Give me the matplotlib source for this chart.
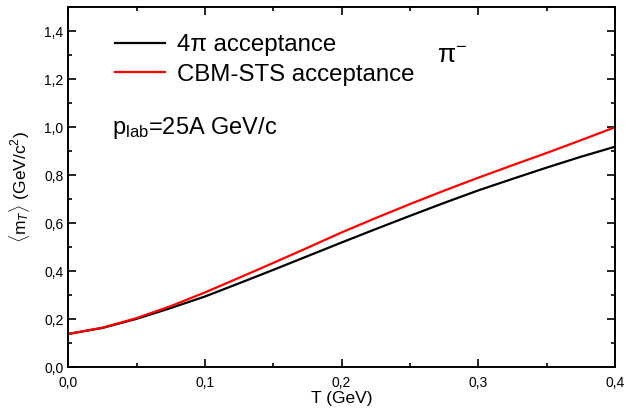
import matplotlib
matplotlib.use("Agg")
import matplotlib.pyplot as plt
from matplotlib.ticker import MultipleLocator, FuncFormatter

plt.rcParams['font.family'] = ['Liberation Sans', 'DejaVu Sans']
plt.rcParams['mathtext.fontset'] = 'custom'
plt.rcParams['mathtext.rm'] = 'Liberation Sans'
plt.rcParams['mathtext.it'] = 'Liberation Sans:italic'

# temperature T (GeV)
T = [0.0, 0.025, 0.05, 0.075, 0.1, 0.125, 0.15, 0.175, 0.2, 0.225, 0.25, 0.275, 0.3, 0.325, 0.35, 0.375, 0.4]
# <mT> for 4pi acceptance
mt_4pi = [0.139, 0.164, 0.202, 0.247, 0.295, 0.350, 0.406, 0.463, 0.520, 0.576, 0.631, 0.685, 0.737, 0.785, 0.832, 0.877, 0.919]
# <mT> for CBM-STS acceptance
mt_sts = [0.139, 0.165, 0.205, 0.255, 0.312, 0.373, 0.435, 0.498, 0.562, 0.622, 0.680, 0.736, 0.790, 0.842, 0.893, 0.946, 1.000]

fig = plt.figure(figsize=(6.27, 4.09), dpi=100)
ax = fig.add_axes([0.109, 0.102, 0.8716, 0.880])

ax.plot(T, mt_4pi, color='black', lw=1.6, label='4π acceptance')
ax.plot(T, mt_sts, color='red', lw=1.6, label='CBM-STS acceptance')

ax.set_xlim(0, 0.4)
ax.set_ylim(0, 1.5)
ax.xaxis.set_major_locator(MultipleLocator(0.1))
ax.xaxis.set_minor_locator(MultipleLocator(0.05))
ax.yaxis.set_major_locator(MultipleLocator(0.2))
ax.yaxis.set_minor_locator(MultipleLocator(0.1))
comma = FuncFormatter(lambda v, p: ('%.1f' % v).replace('.', ','))
ax.xaxis.set_major_formatter(comma)
ax.yaxis.set_major_formatter(comma)
ax.tick_params(which='both', direction='in', top=True, right=True, labelsize=10, width=1.2)
ax.tick_params(which='major', length=6)
ax.tick_params(which='minor', length=3)
ax.tick_params(axis='x', pad=6)
for s in ax.spines.values():
    s.set_linewidth(1.4)

ax.set_xlabel('T (GeV)', fontsize=12.5, labelpad=1)
ax.set_ylabel(r'$\langle$m$_T\rangle$ (GeV/c$^2$)', fontsize=12.5, labelpad=9)

ax.legend(loc='upper left', bbox_to_anchor=(0.045, 0.985), frameon=False,
          fontsize=17.3, handlelength=2.1, handletextpad=0.5, labelspacing=0.3)
ax.text(0.675, 0.865, 'π$^{-}$', transform=ax.transAxes, fontsize=19, va='center')
ax.text(0.08, 0.665, 'p$_{\\mathrm{lab}}$=25A GeV/c', transform=ax.transAxes, fontsize=17, va='center')

fig.savefig('out.png', dpi=100)
